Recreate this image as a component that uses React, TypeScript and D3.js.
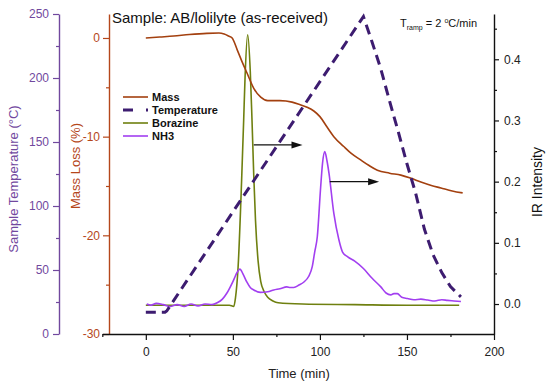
import React, { useEffect, useRef } from "react";
import * as d3 from "d3";

// time (min) vs mass change (%)
const massData: [number, number][] = [
  [0, 0], [8, 0.1], [16, 0.2], [25, 0.35], [35, 0.47], [42, 0.5], [45, 0.4], [47.5, 0.2],
  [49.6, 0], [52.5, -1.2], [55.5, -2.5], [58, -3.5], [62, -5.1], [66, -6.0], [70, -6.35],
  [77, -6.35], [84, -6.5], [89, -6.8], [93, -7.05], [96.5, -7.4], [100, -7.97], [104, -9.0],
  [108, -10.0], [113.7, -11.0], [118, -11.7], [123.4, -12.36], [128, -12.9], [133, -13.4],
  [140, -13.7], [146.5, -13.9], [152, -14.2], [158, -14.6], [164, -14.95], [169.5, -15.2],
  [176, -15.5], [182, -15.7],
];

// time (min) vs sample temperature (C)
const tempData: [number, number][] = [
  [0, 17], [11, 17], [12, 18], [125, 248], [130, 228], [135, 207], [140, 182], [145, 158],
  [150, 133], [155, 110], [160, 82], [165, 62], [170, 48], [175, 37], [181, 29],
];

// time (min) vs IR intensity
const borazineData: [number, number][] = [
  [0, -0.002], [20, -0.002], [40, -0.002], [48, -0.002], [50.5, -0.004], [51.5, 0.01],
  [53, 0.06], [55, 0.2], [56.2, 0.3], [57, 0.37], [58.5, 0.44], [60, 0.38], [61, 0.3],
  [62, 0.21], [63, 0.137], [64.5, 0.07], [66, 0.037], [68, 0.02], [70, 0.011], [73, 0.005],
  [76, 0.002], [90, 0], [120, -0.001], [150, -0.002], [180, -0.002],
];

const nh3Data: [number, number][] = [
  [0.5, 0], [3, -0.002], [6, 0.001], [10, -0.001], [14, -0.004], [18, -0.001], [22, -0.004],
  [26, 0], [30, -0.003], [34, 0], [38, -0.001], [41, 0.002], [44, 0.008], [46.6, 0.018],
  [50.4, 0.039], [52.5, 0.052], [54, 0.057], [56, 0.048], [58, 0.036], [60, 0.027],
  [62, 0.023], [65.8, 0.019], [70, 0.02], [73.5, 0.023], [77, 0.025], [81, 0.028],
  [83, 0.027], [85, 0.027], [88, 0.031], [90.8, 0.036], [93.5, 0.045], [95.6, 0.061],
  [97, 0.085], [98.5, 0.11], [100.4, 0.19], [101.5, 0.23], [102.8, 0.249], [104, 0.235],
  [105.2, 0.214], [108, 0.148], [110.9, 0.105], [113, 0.085], [116, 0.077], [120, 0.07],
  [125, 0.058], [130, 0.042], [135, 0.028], [138, 0.018], [140.7, 0.015], [142.5, 0.017],
  [144.5, 0.017], [147, 0.011], [150.3, 0.009], [154, 0.007], [158, 0.008], [162, 0.0065],
  [166, 0.005], [170, 0.007], [173.3, 0.006], [177, 0.005], [181, 0.004],
];

// arrows pointing at the IR axis: [from time, to time, IR level]
const arrowData: [number, number, number][] = [
  [62, 90, 0.26],
  [105.7, 134, 0.2],
];

const timeTicks = [0, 50, 100, 150, 200];
const timeMinor = [-25, 25, 75, 125, 175];
const tempTicks = [0, 50, 100, 150, 200, 250];
const tempMinor = [25, 75, 125, 175, 225];
const massTicks = [-30, -20, -10, 0];
const massMinor = [-25, -15, -5];
const irTicks = [0, 0.1, 0.2, 0.3, 0.4];
const irMinor = [0.05, 0.15, 0.25, 0.35, 0.45];

const legendItems = ["Mass", "Temperature", "Borazine", "NH3"];

const FONT = "Arial, 'Liberation Sans', sans-serif";
const C = {
  mass: "#a3400f",
  massAxis: "#b5471b",
  temp: "#3d1c70",
  tempAxis: "#71489e",
  borazine: "#6f8010",
  nh3: "#a23ff0",
};

const App = () => {
  const svgRef = useRef<SVGSVGElement>(null);

  useEffect(() => {
    const svg = d3.select(svgRef.current);
    svg.selectAll("*").remove();

    const top = 14, bottom = 334;
    const x = d3.scaleLinear().domain([-25, 200]).range([102.3, 494]);
    const yTemp = d3.scaleLinear().domain([0, 250]).range([bottom, top]);
    const yMass = d3.scaleLinear().domain([-30, 2.43]).range([bottom, top]);
    const yIR = d3.scaleLinear().domain([-0.049, 0.474]).range([bottom, top]);

    const styleAxis = (g: any, color: string, labelColor: string) => {
      g.select(".domain").attr("stroke", color).attr("stroke-width", 1.4);
      g.selectAll(".tick line").attr("stroke", color).attr("stroke-width", 1.2);
      g.selectAll(".tick text")
        .attr("fill", labelColor)
        .attr("font-size", 12)
        .attr("font-family", FONT);
    };

    // temperature axis (far left)
    const gT = svg.append("g").attr("transform", "translate(59,0)");
    gT.call(d3.axisLeft(yTemp).tickValues(tempTicks).tickSize(6).tickSizeOuter(0).tickPadding(4));
    styleAxis(gT, C.tempAxis, C.tempAxis);
    const gTm = svg.append("g").attr("transform", "translate(59,0)");
    gTm.call(d3.axisLeft(yTemp).tickValues(tempMinor).tickSize(3).tickFormat(() => ""));
    gTm.select(".domain").remove();
    styleAxis(gTm, C.tempAxis, C.tempAxis);

    // mass axis
    const gM = svg.append("g").attr("transform", "translate(109,0)");
    gM.call(
      d3.axisLeft(yMass).tickValues(massTicks).tickSize(6).tickSizeOuter(0).tickPadding(3)
        .tickFormat((d: any) => String(d))
    );
    styleAxis(gM, C.massAxis, C.massAxis);
    const gMm = svg.append("g").attr("transform", "translate(109,0)");
    gMm.call(d3.axisLeft(yMass).tickValues(massMinor).tickSize(3).tickFormat(() => ""));
    gMm.select(".domain").remove();
    styleAxis(gMm, C.massAxis, C.massAxis);

    // time axis
    const gX = svg.append("g").attr("transform", `translate(0,${bottom})`);
    gX.call(d3.axisBottom(x).tickValues(timeTicks).tickSize(6).tickSizeOuter(0).tickPadding(7));
    styleAxis(gX, "#111", "#222");
    const gXm = svg.append("g").attr("transform", `translate(0,${bottom})`);
    gXm.call(d3.axisBottom(x).tickValues(timeMinor).tickSize(3).tickFormat(() => ""));
    gXm.select(".domain").remove();
    styleAxis(gXm, "#111", "#222");

    // IR axis (right)
    const gI = svg.append("g").attr("transform", "translate(494,0)");
    gI.call(
      d3.axisRight(yIR).tickValues(irTicks).tickSize(5).tickSizeOuter(0).tickPadding(5)
        .tickFormat(d3.format(".1f"))
    );
    styleAxis(gI, "#111", "#222");
    const gIm = svg.append("g").attr("transform", "translate(494,0)");
    gIm.call(d3.axisRight(yIR).tickValues(irMinor).tickSize(3).tickFormat(() => ""));
    gIm.select(".domain").remove();
    styleAxis(gIm, "#111", "#222");

    // series
    const lineOf = (ys: any) =>
      d3.line<[number, number]>().x((d) => x(d[0])).y((d) => ys(d[1])).curve(d3.curveMonotoneX);

    svg.append("path").datum(borazineData).attr("d", lineOf(yIR))
      .attr("fill", "none").attr("stroke", C.borazine).attr("stroke-width", 1.6);
    svg.append("path").datum(nh3Data).attr("d", lineOf(yIR))
      .attr("fill", "none").attr("stroke", C.nh3).attr("stroke-width", 1.6);
    svg.append("path").datum(massData).attr("d", lineOf(yMass))
      .attr("fill", "none").attr("stroke", C.mass).attr("stroke-width", 1.6);
    svg.append("path").datum(tempData)
      .attr("d", d3.line<[number, number]>().x((d) => x(d[0])).y((d) => yTemp(d[1])))
      .attr("fill", "none").attr("stroke", C.temp).attr("stroke-width", 3)
      .attr("stroke-dasharray", "10,6");

    // arrows
    arrowData.forEach(([t0, t1, v]) => {
      const x0 = x(t0), x1 = x(t1), yy = yIR(v);
      svg.append("line").attr("x1", x0).attr("x2", x1 - 9).attr("y1", yy).attr("y2", yy)
        .attr("stroke", "#111").attr("stroke-width", 1.3);
      svg.append("path")
        .attr("d", `M${x1},${yy} L${x1 - 11},${yy - 3.5} L${x1 - 11},${yy + 3.5} Z`)
        .attr("fill", "#111");
    });

    // legend
    const legColors = [C.mass, C.temp, C.borazine, C.nh3];
    const legY = [97, 110, 123, 136];
    legendItems.forEach((name, i) => {
      const ln = svg.append("line").attr("x1", 123).attr("x2", 148)
        .attr("y1", legY[i]).attr("y2", legY[i])
        .attr("stroke", legColors[i]).attr("stroke-width", i === 1 ? 3 : 1.6);
      if (i === 1) ln.attr("stroke-dasharray", "10,13");
      svg.append("text").attr("x", 152).attr("y", legY[i] + 4)
        .attr("font-family", FONT).attr("font-size", 11).attr("font-weight", "bold")
        .attr("fill", "#111").text(name);
    });

    // titles
    svg.append("text").attr("x", 112).attr("y", 23).attr("font-family", FONT)
      .attr("font-size", 15).attr("fill", "#111").text("Sample: AB/lolilyte (as-received)");

    const tr = svg.append("text").attr("x", 400).attr("y", 27).attr("font-family", FONT)
      .attr("font-size", 11).attr("fill", "#111");
    tr.append("tspan").text("T");
    tr.append("tspan").attr("font-size", 7).attr("dy", 3).text("ramp");
    tr.append("tspan").attr("dy", -3).text(" = 2 ");
    tr.append("tspan").attr("font-size", 7).attr("dy", -4).text("o");
    tr.append("tspan").attr("dy", 4).text("C/min");

    svg.append("text").attr("transform", "translate(18,179) rotate(-90)")
      .attr("text-anchor", "middle").attr("font-family", FONT).attr("font-size", 13)
      .attr("fill", C.tempAxis).text("Sample Temperature (°C)");
    svg.append("text").attr("transform", "translate(80,166) rotate(-90)")
      .attr("text-anchor", "middle").attr("font-family", FONT).attr("font-size", 13)
      .attr("fill", C.massAxis).text("Mass Loss (%)");
    svg.append("text").attr("transform", "translate(542,182) rotate(-90)")
      .attr("text-anchor", "middle").attr("font-family", FONT).attr("font-size", 14)
      .attr("fill", "#111").text("IR Intensity");
    svg.append("text").attr("x", 299).attr("y", 378).attr("text-anchor", "middle")
      .attr("font-family", FONT).attr("font-size", 13).attr("fill", "#222").text("Time (min)");
  }, []);

  return (
    <svg
      ref={svgRef}
      width={550}
      height={386}
      style={{ position: "absolute", left: 0, top: 0, background: "#fff" }}
    />
  );
};

export default App;
